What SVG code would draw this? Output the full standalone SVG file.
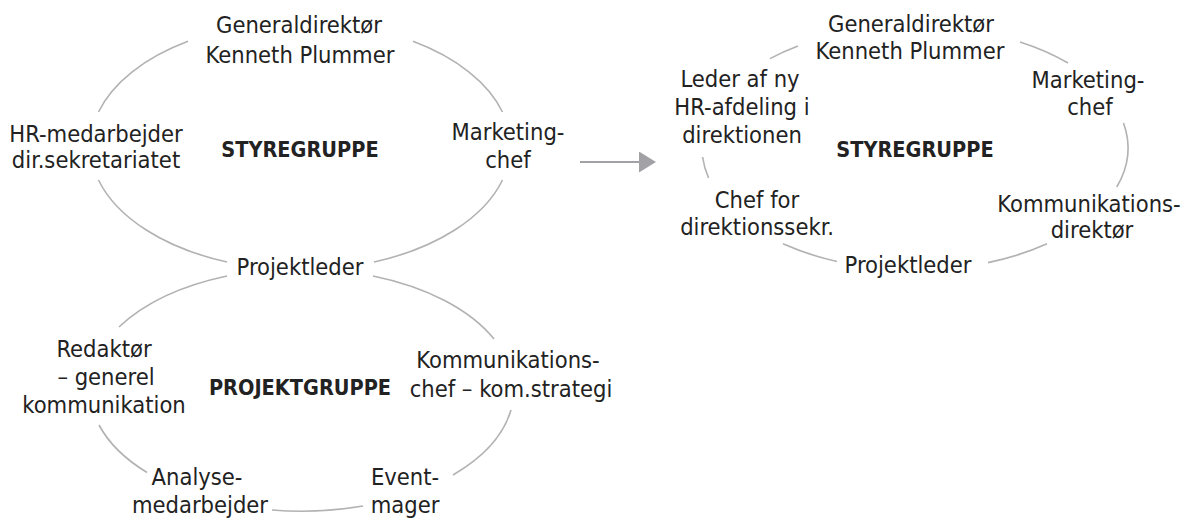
<svg xmlns="http://www.w3.org/2000/svg" width="1191" height="522" viewBox="0 0 1191 522">
  <style>
    .lbl { font-family: "DejaVu Sans Condensed", "DejaVu Sans", sans-serif; font-stretch: condensed; font-size: 23.5px; fill: #222; text-anchor: middle; }
    .title { font-family: "DejaVu Sans Condensed", "DejaVu Sans", sans-serif; font-stretch: condensed; font-size: 21.5px; font-weight: bold; fill: #222; text-anchor: middle; }
    .ring { fill: none; stroke: #b2b2b4; stroke-width: 1.6; }
    .arrow { fill: none; stroke: #a2a2a6; stroke-width: 2.2; }
  </style>
  <defs>
    <marker id="head" viewBox="0 0 17 21" refX="0" refY="10.5" markerWidth="17" markerHeight="21" markerUnits="userSpaceOnUse" orient="auto">
      <path d="M0,0 L17,10.5 L0,21 Z" fill="#a2a2a6"/>
    </marker>
  </defs>

  <rect width="1191" height="522" fill="#fff"/>

  <!-- ring segments between members -->
  <g id="connectors">
    <!-- steering group, before -->
    <path class="ring" d="M98.5,112 A210,124 0 0 1 188,41.3"/>
    <path class="ring" d="M413,41.3 A210,124 0 0 1 502.5,112"/>
    <path class="ring" d="M502.5,180 A210,124 0 0 1 374,262"/>
    <path class="ring" d="M227,262 A210,124 0 0 1 98.5,180"/>
    <!-- project group -->
    <path class="ring" d="M119,327 A212,121 0 0 1 227,276"/>
    <path class="ring" d="M373,276 A212,121 0 0 1 494,339"/>
    <path class="ring" d="M511,410 A212,121 0 0 1 453,475"/>
    <path class="ring" d="M363,506 A212,121 0 0 1 272,510"/>
    <path class="ring" d="M147,472.5 A212,121 0 0 1 99,425"/>
    <!-- steering group, after -->
    <path class="ring" d="M770,58.6 A213,122 0 0 1 798,46"/>
    <path class="ring" d="M1020,42 A213,122 0 0 1 1068,63"/>
    <path class="ring" d="M1123.5,123 A213,122 0 0 1 1116.8,187"/>
    <path class="ring" d="M1047,243.8 A213,122 0 0 1 988,262.6"/>
    <path class="ring" d="M837,261.5 A213,122 0 0 1 783,243.8"/>
    <path class="ring" d="M708.6,178 A213,122 0 0 1 702.6,157"/>
    <!-- transition arrow -->
    <line class="arrow" x1="580" y1="162" x2="639" y2="162" marker-end="url(#head)"/>
  </g>

  <!-- steering group, before -->
  <g id="sg1-title"><text class="title" x="300" y="157">STYREGRUPPE</text></g>
  <g id="sg1-gd"><text class="lbl" x="299" y="33">Generaldirektør</text><text class="lbl" x="300" y="63">Kenneth Plummer</text></g>
  <g id="sg1-hr"><text class="lbl" x="96" y="142">HR-medarbejder</text><text class="lbl" x="96" y="168">dir.sekretariatet</text></g>
  <g id="sg1-mk"><text class="lbl" x="508" y="140">Marketing-</text><text class="lbl" x="508" y="168">chef</text></g>
  <g id="pl"><text class="lbl" x="300" y="275">Projektleder</text></g>

  <!-- project group -->
  <g id="pg-title"><text class="title" x="300" y="395">PROJEKTGRUPPE</text></g>
  <g id="pg-red"><text class="lbl" x="104" y="357">Redaktør</text><text class="lbl" x="106" y="385">– generel</text><text class="lbl" x="104" y="413">kommunikation</text></g>
  <g id="pg-kom"><text class="lbl" x="508" y="368">Kommunikations-</text><text class="lbl" x="511" y="397">chef – kom.strategi</text></g>
  <g id="pg-ana"><text class="lbl" x="197" y="485">Analyse-</text><text class="lbl" x="200" y="513">medarbejder</text></g>
  <g id="pg-evt"><text class="lbl" x="405" y="485">Event-</text><text class="lbl" x="405" y="513">mager</text></g>

  <!-- steering group, after -->
  <g id="sg2-title"><text class="title" x="915" y="157">STYREGRUPPE</text></g>
  <g id="sg2-gd"><text class="lbl" x="911" y="32">Generaldirektør</text><text class="lbl" x="910" y="59">Kenneth Plummer</text></g>
  <g id="sg2-hr"><text class="lbl" x="740" y="87">Leder af ny</text><text class="lbl" x="742" y="115">HR-afdeling i</text><text class="lbl" x="742" y="143">direktionen</text></g>
  <g id="sg2-mk"><text class="lbl" x="1088" y="88">Marketing-</text><text class="lbl" x="1090" y="115">chef</text></g>
  <g id="sg2-sek"><text class="lbl" x="757" y="208">Chef for</text><text class="lbl" x="757" y="235">direktionssekr.</text></g>
  <g id="sg2-kom"><text class="lbl" x="1089" y="212">Kommunikations-</text><text class="lbl" x="1092" y="238">direktør</text></g>
  <g id="sg2-pl"><text class="lbl" x="908" y="273">Projektleder</text></g>
</svg>
